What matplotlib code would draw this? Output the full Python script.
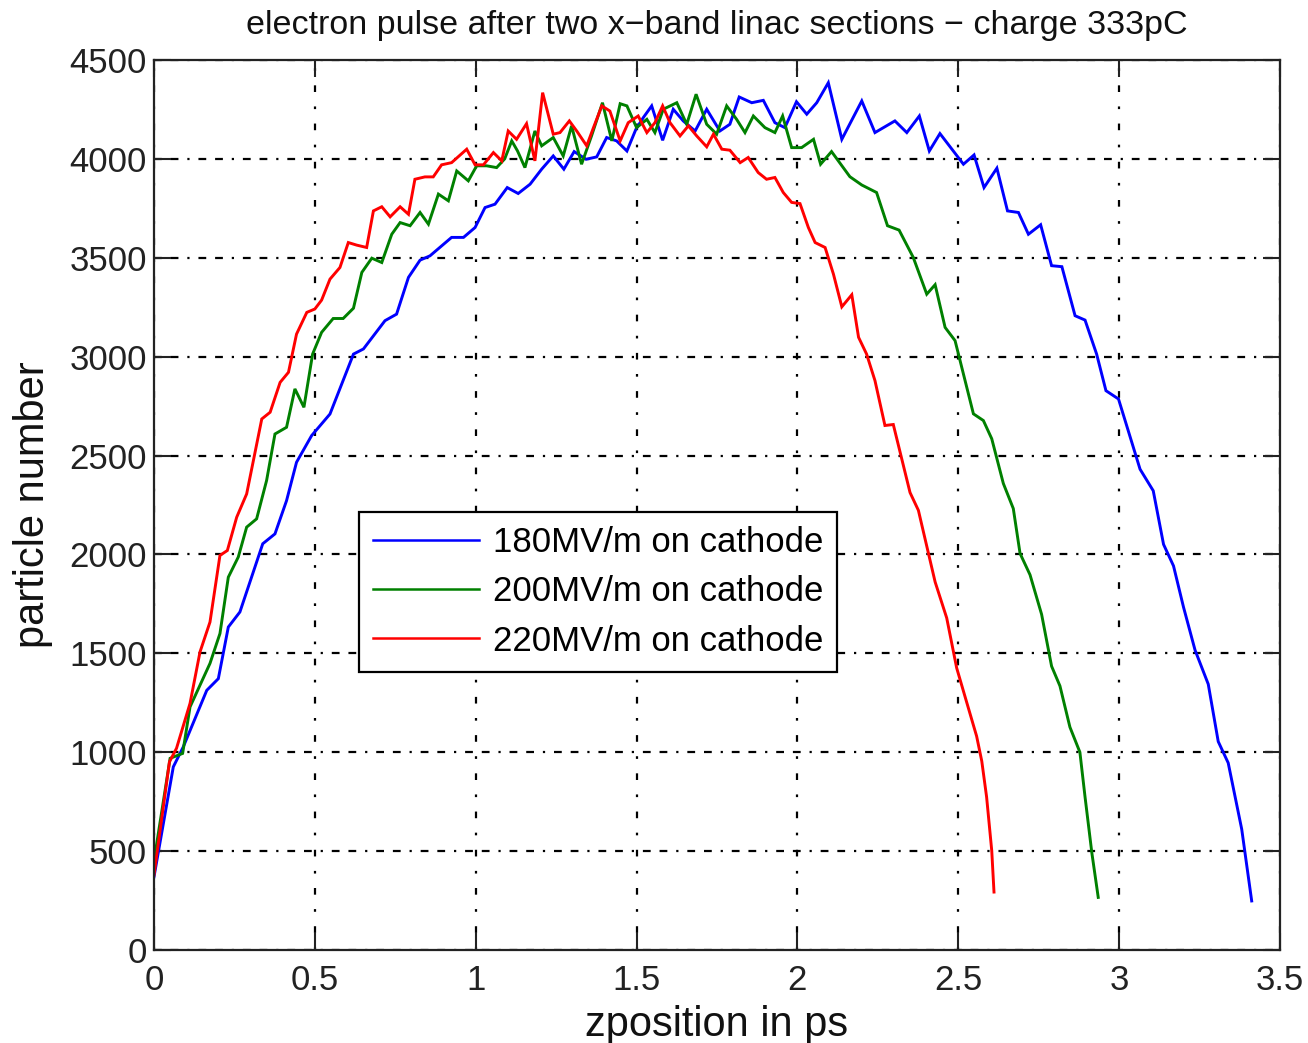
import matplotlib
matplotlib.use("Agg")
import matplotlib.pyplot as plt

# ---- data ----
blue_x = [0.000, 0.060, 0.091, 0.164, 0.200, 0.231, 0.267, 0.338, 0.376, 0.412,
          0.443, 0.490, 0.547, 0.620, 0.651, 0.718, 0.754, 0.791, 0.827, 0.858,
          0.925, 0.962, 0.998, 1.029, 1.060, 1.098, 1.132, 1.169, 1.205, 1.241,
          1.274, 1.306, 1.343, 1.376, 1.407, 1.438, 1.470, 1.498, 1.521, 1.547,
          1.581, 1.614, 1.645, 1.682, 1.718, 1.759, 1.790, 1.819, 1.858, 1.894,
          1.930, 1.961, 1.997, 2.029, 2.060, 2.096, 2.138, 2.200, 2.241, 2.303,
          2.340, 2.379, 2.410, 2.443, 2.516, 2.549, 2.580, 2.620, 2.653, 2.687,
          2.718, 2.756, 2.790, 2.822, 2.863, 2.894, 2.930, 2.959, 2.998, 3.065,
          3.106, 3.138, 3.169, 3.200, 3.236, 3.277, 3.308, 3.339, 3.381, 3.412]
blue_y = [370, 926, 1027, 1313, 1372, 1633, 1709, 2054, 2104, 2272,
          2466, 2601, 2710, 3013, 3039, 3182, 3215, 3401, 3488, 3510,
          3603, 3603, 3653, 3754, 3771, 3855, 3825, 3872, 3948, 4015,
          3948, 4037, 3998, 4010, 4108, 4091, 4040, 4150, 4209, 4268,
          4094, 4251, 4192, 4141, 4251, 4141, 4175, 4313, 4284, 4296,
          4183, 4158, 4289, 4226, 4284, 4385, 4099, 4293, 4133, 4192,
          4133, 4217, 4040, 4128, 3973, 4020, 3855, 3953, 3737, 3729,
          3619, 3667, 3460, 3455, 3207, 3185, 3013, 2828, 2786, 2431,
          2322, 2051, 1942, 1734, 1516, 1344, 1054, 946, 611, 248]

green_x = [0.000, 0.050, 0.089, 0.112, 0.174, 0.205, 0.231, 0.262, 0.288, 0.319,
           0.350, 0.376, 0.412, 0.438, 0.466, 0.493, 0.521, 0.557, 0.588, 0.620,
           0.646, 0.677, 0.708, 0.739, 0.765, 0.796, 0.827, 0.853, 0.884, 0.915,
           0.941, 0.977, 1.003, 1.034, 1.065, 1.090, 1.112, 1.130, 1.153, 1.184,
           1.205, 1.241, 1.272, 1.298, 1.329, 1.360, 1.394, 1.423, 1.449, 1.470,
           1.500, 1.532, 1.557, 1.583, 1.625, 1.656, 1.685, 1.718, 1.749, 1.780,
           1.811, 1.837, 1.863, 1.899, 1.930, 1.954, 1.982, 2.013, 2.050, 2.072,
           2.106, 2.163, 2.200, 2.246, 2.280, 2.316, 2.360, 2.402, 2.428, 2.459,
           2.490, 2.547, 2.578, 2.604, 2.640, 2.671, 2.692, 2.723, 2.759, 2.790,
           2.816, 2.847, 2.878, 2.894, 2.915, 2.935]
green_y = [450, 969, 994, 1229, 1449, 1600, 1885, 1987, 2138, 2180,
           2374, 2609, 2643, 2837, 2744, 3013, 3123, 3193, 3193, 3245,
           3426, 3498, 3476, 3619, 3678, 3662, 3729, 3670, 3822, 3788,
           3939, 3889, 3965, 3965, 3956, 4000, 4091, 4040, 3956, 4141,
           4066, 4108, 4015, 4167, 3973, 4116, 4284, 4091, 4279, 4268,
           4158, 4200, 4133, 4251, 4284, 4175, 4327, 4175, 4125, 4268,
           4200, 4133, 4217, 4158, 4133, 4217, 4057, 4057, 4099, 3973,
           4037, 3910, 3868, 3830, 3662, 3640, 3502, 3316, 3364, 3148,
           3081, 2711, 2677, 2585, 2359, 2232, 2005, 1897, 1697, 1435,
           1335, 1127, 1000, 774, 493, 266]

red_x = [0.000, 0.048, 0.070, 0.112, 0.143, 0.174, 0.205, 0.228, 0.257, 0.288,
         0.335, 0.361, 0.392, 0.418, 0.443, 0.475, 0.500, 0.521, 0.547, 0.578,
         0.604, 0.630, 0.661, 0.682, 0.708, 0.734, 0.765, 0.791, 0.811, 0.842,
         0.868, 0.894, 0.925, 0.972, 0.998, 1.024, 1.055, 1.081, 1.101, 1.127,
         1.158, 1.184, 1.208, 1.241, 1.262, 1.291, 1.314, 1.345, 1.366, 1.392,
         1.417, 1.449, 1.474, 1.505, 1.532, 1.557, 1.581, 1.604, 1.635, 1.661,
         1.687, 1.718, 1.739, 1.765, 1.790, 1.822, 1.847, 1.878, 1.904, 1.930,
         1.956, 1.982, 2.008, 2.034, 2.055, 2.086, 2.112, 2.138, 2.169, 2.190,
         2.215, 2.241, 2.272, 2.298, 2.350, 2.376, 2.428, 2.464, 2.495, 2.521,
         2.557, 2.573, 2.588, 2.604, 2.611]
red_y = [379, 951, 1020, 1247, 1507, 1658, 1995, 2020, 2188, 2306,
         2685, 2719, 2870, 2921, 3114, 3224, 3241, 3286, 3392, 3451,
         3577, 3564, 3552, 3737, 3758, 3707, 3758, 3720, 3897, 3909,
         3909, 3970, 3981, 4049, 3970, 3970, 4032, 3990, 4141, 4099,
         4178, 3990, 4335, 4125, 4133, 4192, 4141, 4066, 4158, 4268,
         4242, 4091, 4183, 4217, 4133, 4183, 4268, 4183, 4116, 4167,
         4116, 4061, 4125, 4049, 4044, 3981, 4007, 3931, 3897, 3906,
         3830, 3780, 3774, 3653, 3577, 3552, 3417, 3252, 3313, 3098,
         3013, 2879, 2652, 2657, 2313, 2223, 1861, 1679, 1426, 1281,
         1081, 955, 774, 502, 293]

labels = ["180MV/m on cathode", "200MV/m on cathode", "220MV/m on cathode"]
colors = ["#0000ff", "#008000", "#ff0000"]
x_ticks = [0, 0.5, 1, 1.5, 2, 2.5, 3, 3.5]
x_ticklabels = ["0", "0.5", "1", "1.5", "2", "2.5", "3", "3.5"]
y_ticks = [0, 500, 1000, 1500, 2000, 2500, 3000, 3500, 4000, 4500]
title = "electron pulse after two x\u2212band linac sections \u2212 charge 333pC"
xlabel = "zposition in ps"
ylabel = "particle number"

assert len(blue_x) == len(blue_y)
assert len(green_x) == len(green_y)
assert len(red_x) == len(red_y)

plt.rcParams['font.family'] = ['Liberation Sans', 'DejaVu Sans']

fig = plt.figure(figsize=(13.08, 10.43), dpi=100)
ax = fig.add_axes([154/1308, 1 - 950/1043, 1126/1308, 890/1043])

for xs, ys, c, lab in zip([blue_x, green_x, red_x], [blue_y, green_y, red_y], colors, labels):
    ax.plot(xs, ys, color=c, lw=2.1, label=lab, solid_joinstyle='miter')

ax.set_xlim(0, 3.5)
ax.set_ylim(0, 4500)
ax.set_xticks(x_ticks)
ax.set_xticklabels(x_ticklabels)
ax.set_yticks(y_ticks)

ax.tick_params(direction='in', length=12, width=1.5, top=True, right=True,
               labelsize=25, colors='#222222')
ax.tick_params(axis='x', pad=10)
ax.tick_params(axis='y', pad=5)
for s in ax.spines.values():
    s.set_linewidth(1.6)
    s.set_color('#222222')

ax.grid(True, axis='y', color='black', lw=1.6, linestyle=(0, (3.5, 4.0, 3.5, 4.0, 1.0, 4.0)))
ax.grid(True, axis='x', color='black', lw=1.6, linestyle=(0, (1.2, 6.5, 3.0, 6.5)))

ax.set_title(title, fontsize=24.5, pad=19, color='#111111')
ax.set_xlabel(xlabel, fontsize=30, labelpad=6, color='#111111')
ax.set_ylabel(ylabel, fontsize=30, labelpad=12, color='#111111')

leg = ax.legend(loc='upper left', bbox_to_anchor=(0.182, 0.492), borderaxespad=0,
                fontsize=25, handlelength=3.05, handletextpad=0.4,
                labelspacing=0.47, borderpad=0.4, fancybox=False,
                framealpha=1, edgecolor='black')
leg.get_frame().set_linewidth(1.6)
for line in leg.get_lines():
    line.set_linewidth(1.8)

fig.savefig("out.png", dpi=100, facecolor='white')
